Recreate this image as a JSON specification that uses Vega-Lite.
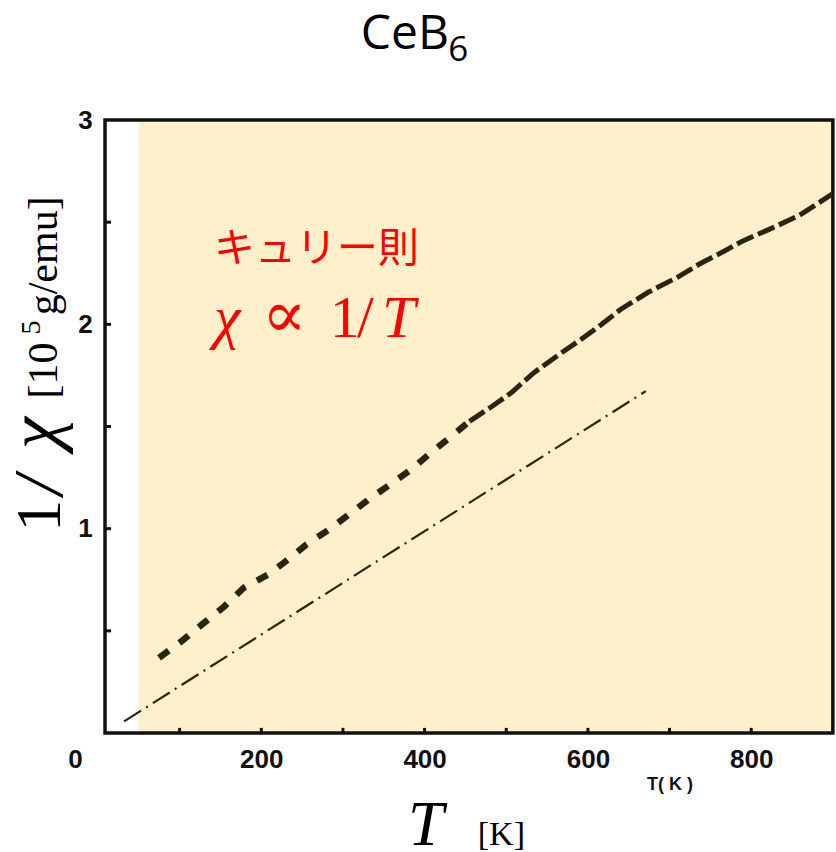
{
  "$schema": "https://vega.github.io/schema/vega-lite/v6.json",
  "autosize": "none",
  "width": 738,
  "height": 613,
  "padding": {"left": 98, "top": 120, "right": 0, "bottom": 119},
  "background": "white",
  "config": {"view": {"stroke": null}},
  "datasets": {
    "upper": [
      {"T": 74.8, "inv_chi": 0.368}, {"T": 101.3, "inv_chi": 0.446}, {"T": 129.8, "inv_chi": 0.539}, {"T": 154.3, "inv_chi": 0.618},
      {"T": 178.7, "inv_chi": 0.711}, {"T": 208.3, "inv_chi": 0.775}, {"T": 227.6, "inv_chi": 0.833}, {"T": 255.1, "inv_chi": 0.922},
      {"T": 282.7, "inv_chi": 0.995}, {"T": 310.2, "inv_chi": 1.078}, {"T": 334.6, "inv_chi": 1.152}, {"T": 361.1, "inv_chi": 1.225},
      {"T": 383.5, "inv_chi": 1.289}, {"T": 408.0, "inv_chi": 1.373}, {"T": 432.4, "inv_chi": 1.451}, {"T": 454.9, "inv_chi": 1.525},
      {"T": 482.4, "inv_chi": 1.598}, {"T": 506.8, "inv_chi": 1.667}, {"T": 534.3, "inv_chi": 1.765}, {"T": 564.9, "inv_chi": 1.853},
      {"T": 591.4, "inv_chi": 1.926}, {"T": 616.9, "inv_chi": 2.0}, {"T": 640.3, "inv_chi": 2.074}, {"T": 673.9, "inv_chi": 2.157},
      {"T": 709.6, "inv_chi": 2.23}, {"T": 736.1, "inv_chi": 2.294}, {"T": 766.7, "inv_chi": 2.358}, {"T": 789.1, "inv_chi": 2.407},
      {"T": 822.7, "inv_chi": 2.466}, {"T": 859.4, "inv_chi": 2.534}, {"T": 899.1, "inv_chi": 2.637}
    ]
  },
  "layer": [
    {
      "data": {"values": [{"x1": 50, "x2": 900, "y1": 0, "y2": 3}]},
      "mark": {"type": "rect", "fill": "#fff0cc"},
      "encoding": {
        "x": {"field": "x1", "type": "quantitative", "scale": {"domain": [0, 903.86], "nice": false, "zero": false},
          "axis": {"values": [0, 200, 400, 600, 800], "format": "d", "title": null, "grid": false, "domain": false, "ticks": false, "tickSize": 0,
            "labelPadding": 13, "labelFont": "Liberation Sans", "labelFontWeight": "bold", "labelFontSize": 26, "labelColor": "#111111",
            "labelFlush": false, "labelOverlap": false,
            "labelOffset": {"condition": {"test": "datum.value === 0", "value": -23}, "value": 0}}},
        "x2": {"field": "x2"},
        "y": {"field": "y1", "type": "quantitative", "scale": {"domain": [0, 3], "nice": false, "zero": false},
          "axis": {"values": [1, 2, 3], "format": "d", "title": null, "grid": false, "domain": false, "ticks": false, "tickSize": 0,
            "labelPadding": 13, "labelAlign": "center", "labelFont": "Liberation Sans", "labelFontWeight": "bold", "labelFontSize": 26, "labelColor": "#111111",
            "labelFlush": false, "labelOverlap": false}},
        "y2": {"field": "y2"}
      }
    },
    {
      "data": {"values": [{"x1": 8.6, "x2": 900, "y1": 0, "y2": 3}]},
      "mark": {"type": "rect", "fillOpacity": 0, "stroke": "#111111", "strokeWidth": 3.5},
      "encoding": {
        "x": {"field": "x1", "type": "quantitative", "scale": {"domain": [0, 903.86], "nice": false, "zero": false}},
        "x2": {"field": "x2"},
        "y": {"field": "y1", "type": "quantitative", "scale": {"domain": [0, 3], "nice": false, "zero": false}},
        "y2": {"field": "y2"}
      }
    },
    {
      "data": {"values": [{"T": 100}, {"T": 200}, {"T": 300}, {"T": 400}, {"T": 500}, {"T": 600}, {"T": 700}, {"T": 800}]},
      "mark": {"type": "rule", "color": "#111111", "strokeWidth": 3},
      "encoding": {
        "x": {"field": "T", "type": "quantitative", "scale": {"domain": [0, 903.86], "nice": false, "zero": false}},
        "y": {"datum": 0, "type": "quantitative", "scale": {"domain": [0, 3], "nice": false, "zero": false}},
        "y2": {"datum": 0.025}
      }
    },
    {
      "data": {"values": [{"v": 0.5}, {"v": 1}, {"v": 1.5}, {"v": 2}, {"v": 2.5}]},
      "mark": {"type": "rule", "color": "#111111", "strokeWidth": 3},
      "encoding": {
        "y": {"field": "v", "type": "quantitative", "scale": {"domain": [0, 3], "nice": false, "zero": false}},
        "x": {"datum": 8.6, "type": "quantitative", "scale": {"domain": [0, 903.86], "nice": false, "zero": false}},
        "x2": {"datum": 16}
      }
    },
    {
      "data": {"values": [
        {"T": 32, "inv_chi": 0.057},
        {"T": 670.9, "inv_chi": 1.673}
      ]},
      "mark": {"type": "line", "color": "#2b2410", "strokeWidth": 2.2, "strokeDash": [20, 6, 2, 6]},
      "encoding": {
        "x": {"field": "T", "type": "quantitative", "scale": {"domain": [0, 903.86], "nice": false, "zero": false}},
        "y": {"field": "inv_chi", "type": "quantitative", "scale": {"domain": [0, 3], "nice": false, "zero": false}}
      }
    },
    {
      "data": {"name": "upper"},
      "transform": [{"filter": "datum.T <= 455"}],
      "mark": {"type": "line", "color": "#2b2410", "strokeWidth": 6.5, "strokeDash": [12, 13]},
      "encoding": {
        "x": {"field": "T", "type": "quantitative", "scale": {"domain": [0, 903.86], "nice": false, "zero": false}},
        "y": {"field": "inv_chi", "type": "quantitative", "scale": {"domain": [0, 3], "nice": false, "zero": false}}
      }
    },
    {
      "data": {"name": "upper"},
      "transform": [{"filter": "datum.T >= 454"}],
      "mark": {"type": "line", "color": "#2b2410", "strokeWidth": 5, "strokeDash": [18, 5]},
      "encoding": {
        "x": {"field": "T", "type": "quantitative", "scale": {"domain": [0, 903.86], "nice": false, "zero": false}},
        "y": {"field": "inv_chi", "type": "quantitative", "scale": {"domain": [0, 3], "nice": false, "zero": false}}
      }
    },
    {
      "data": {"values": [{"T": 142, "v": 2.304, "label": "キュリー則"}]},
      "mark": {"type": "text", "align": "left", "baseline": "alphabetic", "font": "Noto Sans CJK JP", "fontSize": 41, "color": "#ff0000"},
      "encoding": {
        "x": {"field": "T", "type": "quantitative", "scale": {"domain": [0, 903.86], "nice": false, "zero": false}},
        "y": {"field": "v", "type": "quantitative", "scale": {"domain": [0, 3], "nice": false, "zero": false}},
        "text": {"field": "label"}
      }
    },
    {
      "data": {"values": [{"T": 142, "v": 1.936, "label": "χ"}, {"T": 347.9, "v": 1.936, "label": "T"}]},
      "mark": {"type": "text", "align": "left", "baseline": "alphabetic", "font": "Liberation Serif", "fontStyle": "italic", "fontSize": 60, "color": "#ff0000"},
      "encoding": {
        "x": {"field": "T", "type": "quantitative", "scale": {"domain": [0, 903.86], "nice": false, "zero": false}},
        "y": {"field": "v", "type": "quantitative", "scale": {"domain": [0, 3], "nice": false, "zero": false}},
        "text": {"field": "label"}
      }
    },
    {
      "data": {"values": [{"T": 200.8, "v": 1.936, "label": "∝"}]},
      "mark": {"type": "text", "align": "left", "baseline": "alphabetic", "font": "DejaVu Serif", "fontSize": 66, "color": "#ff0000"},
      "encoding": {
        "x": {"field": "T", "type": "quantitative", "scale": {"domain": [0, 903.86], "nice": false, "zero": false}},
        "y": {"field": "v", "type": "quantitative", "scale": {"domain": [0, 3], "nice": false, "zero": false}},
        "text": {"field": "label"}
      }
    },
    {
      "data": {"values": [{"T": 283.7, "v": 1.936, "label": "1"}, {"T": 317.2, "v": 1.936, "label": "/"}]},
      "mark": {"type": "text", "align": "left", "baseline": "alphabetic", "font": "Liberation Serif", "fontSize": 60, "color": "#ff0000"},
      "encoding": {
        "x": {"field": "T", "type": "quantitative", "scale": {"domain": [0, 903.86], "nice": false, "zero": false}},
        "y": {"field": "v", "type": "quantitative", "scale": {"domain": [0, 3], "nice": false, "zero": false}},
        "text": {"field": "label"}
      }
    },
    {
      "data": {"values": [{"T": 429.9, "v": 3.348, "label": "CeB"}]},
      "mark": {"type": "text", "align": "right", "baseline": "alphabetic", "font": "Open Sans", "fontSize": 48, "color": "#000000"},
      "encoding": {
        "x": {"field": "T", "type": "quantitative", "scale": {"domain": [0, 903.86], "nice": false, "zero": false}},
        "y": {"field": "v", "type": "quantitative", "scale": {"domain": [0, 3], "nice": false, "zero": false}},
        "text": {"field": "label"}
      }
    },
    {
      "data": {"values": [{"T": 428.9, "v": 3.289, "label": "6"}]},
      "mark": {"type": "text", "align": "left", "baseline": "alphabetic", "font": "Open Sans", "fontSize": 35, "color": "#000000"},
      "encoding": {
        "x": {"field": "T", "type": "quantitative", "scale": {"domain": [0, 903.86], "nice": false, "zero": false}},
        "y": {"field": "v", "type": "quantitative", "scale": {"domain": [0, 3], "nice": false, "zero": false}},
        "text": {"field": "label"}
      }
    },
    {
      "data": {"values": [{"T": 700.6, "v": -0.279, "label": "T( K )"}]},
      "mark": {"type": "text", "align": "center", "baseline": "alphabetic", "font": "Liberation Sans", "fontWeight": "bold", "fontSize": 18, "color": "#111111"},
      "encoding": {
        "x": {"field": "T", "type": "quantitative", "scale": {"domain": [0, 903.86], "nice": false, "zero": false}},
        "y": {"field": "v", "type": "quantitative", "scale": {"domain": [0, 3], "nice": false, "zero": false}},
        "text": {"field": "label"}
      }
    },
    {
      "data": {"values": [{"T": 379.7, "v": -0.549, "label": "T"}]},
      "mark": {"type": "text", "align": "left", "baseline": "alphabetic", "font": "Liberation Serif", "fontStyle": "italic", "fontSize": 64, "color": "#000000"},
      "encoding": {
        "x": {"field": "T", "type": "quantitative", "scale": {"domain": [0, 903.86], "nice": false, "zero": false}},
        "y": {"field": "v", "type": "quantitative", "scale": {"domain": [0, 3], "nice": false, "zero": false}},
        "text": {"field": "label"}
      }
    },
    {
      "data": {"values": [{"T": 465.1, "v": -0.549, "label": "[K]"}]},
      "mark": {"type": "text", "align": "left", "baseline": "alphabetic", "font": "Liberation Serif", "fontSize": 34, "color": "#000000"},
      "encoding": {
        "x": {"field": "T", "type": "quantitative", "scale": {"domain": [0, 903.86], "nice": false, "zero": false}},
        "y": {"field": "v", "type": "quantitative", "scale": {"domain": [0, 3], "nice": false, "zero": false}},
        "text": {"field": "label"}
      }
    },
    {
      "data": {"values": [{"T": -46.6, "v": 0.985, "label": "1"}]},
      "mark": {"type": "text", "align": "left", "baseline": "alphabetic", "angle": 270, "font": "Liberation Serif", "fontSize": 64, "color": "#000000"},
      "encoding": {
        "x": {"field": "T", "type": "quantitative", "scale": {"domain": [0, 903.86], "nice": false, "zero": false}},
        "y": {"field": "v", "type": "quantitative", "scale": {"domain": [0, 3], "nice": false, "zero": false}},
        "text": {"field": "label"}
      }
    },
    {
      "data": {"values": [{"T": -44.4, "v": 1.165, "label": "/"}]},
      "mark": {"type": "text", "align": "left", "baseline": "alphabetic", "angle": 270, "font": "Liberation Serif", "fontStyle": "italic", "fontSize": 70, "color": "#000000"},
      "encoding": {
        "x": {"field": "T", "type": "quantitative", "scale": {"domain": [0, 903.86], "nice": false, "zero": false}},
        "y": {"field": "v", "type": "quantitative", "scale": {"domain": [0, 3], "nice": false, "zero": false}},
        "text": {"field": "label"}
      }
    },
    {
      "data": {"values": [{"T": -49.0, "v": 1.39, "label": "χ"}]},
      "mark": {"type": "text", "align": "left", "baseline": "alphabetic", "angle": 270, "font": "Liberation Serif", "fontStyle": "italic", "fontSize": 72, "color": "#000000"},
      "encoding": {
        "x": {"field": "T", "type": "quantitative", "scale": {"domain": [0, 903.86], "nice": false, "zero": false}},
        "y": {"field": "v", "type": "quantitative", "scale": {"domain": [0, 3], "nice": false, "zero": false}},
        "text": {"field": "label"}
      }
    },
    {
      "data": {"values": [{"T": -50.2, "v": 1.637, "label": "[10"}, {"T": -50.2, "v": 2.044, "label": "g/emu]"}]},
      "mark": {"type": "text", "align": "left", "baseline": "alphabetic", "angle": 270, "font": "Liberation Serif", "fontSize": 42, "color": "#000000"},
      "encoding": {
        "x": {"field": "T", "type": "quantitative", "scale": {"domain": [0, 903.86], "nice": false, "zero": false}},
        "y": {"field": "v", "type": "quantitative", "scale": {"domain": [0, 3], "nice": false, "zero": false}},
        "text": {"field": "label"}
      }
    },
    {
      "data": {"values": [{"T": -71.0, "v": 1.95, "label": "5"}]},
      "mark": {"type": "text", "align": "left", "baseline": "alphabetic", "angle": 270, "font": "Liberation Serif", "fontSize": 28, "color": "#000000"},
      "encoding": {
        "x": {"field": "T", "type": "quantitative", "scale": {"domain": [0, 903.86], "nice": false, "zero": false}},
        "y": {"field": "v", "type": "quantitative", "scale": {"domain": [0, 3], "nice": false, "zero": false}},
        "text": {"field": "label"}
      }
    }
  ]
}
